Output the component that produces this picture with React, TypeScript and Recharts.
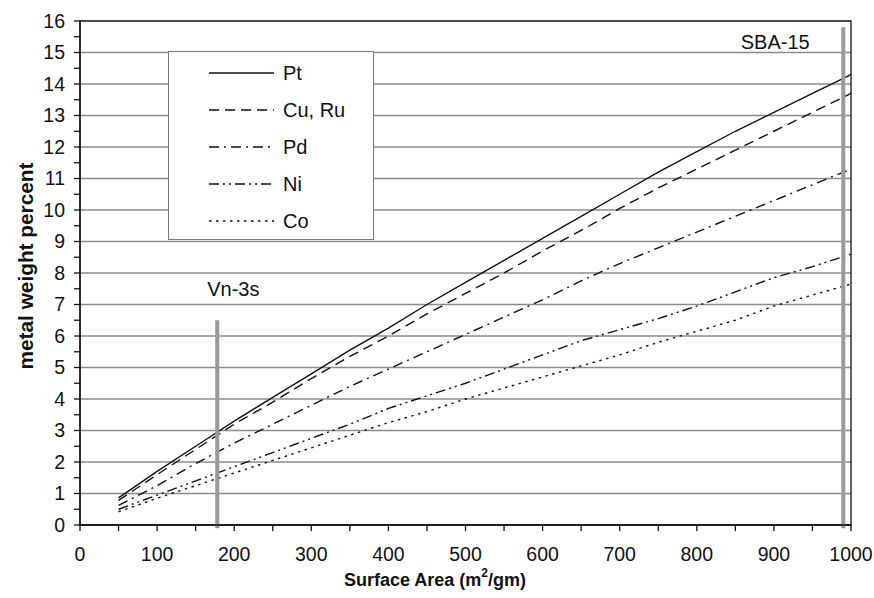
import React from 'react';
import { LineChart, Line, XAxis, YAxis, CartesianGrid, ReferenceLine, ReferenceArea, ReferenceDot, Label } from 'recharts';

const surfaceArea = [50, 100, 150, 200, 250, 300, 350, 400, 450, 500, 550, 600, 650, 700, 750, 800, 850, 900, 950, 1000];
const pt = [0.86, 1.7, 2.5, 3.3, 4.05, 4.8, 5.55, 6.25, 7.0, 7.7, 8.4, 9.1, 9.8, 10.5, 11.2, 11.85, 12.5, 13.1, 13.7, 14.3];
const cuRu = [0.78, 1.6, 2.4, 3.2, 3.9, 4.65, 5.35, 6.0, 6.7, 7.35, 8.0, 8.7, 9.35, 10.05, 10.7, 11.3, 11.9, 12.5, 13.1, 13.7];
const pd = [0.62, 1.25, 1.95, 2.6, 3.2, 3.8, 4.4, 4.95, 5.5, 6.05, 6.6, 7.15, 7.75, 8.3, 8.8, 9.3, 9.8, 10.3, 10.8, 11.3];
const ni = [0.5, 0.95, 1.4, 1.85, 2.3, 2.75, 3.2, 3.7, 4.1, 4.5, 4.95, 5.4, 5.85, 6.2, 6.55, 6.95, 7.4, 7.85, 8.2, 8.6];
const co = [0.42, 0.85, 1.25, 1.65, 2.05, 2.45, 2.85, 3.25, 3.6, 4.0, 4.35, 4.7, 5.05, 5.4, 5.8, 6.15, 6.5, 6.95, 7.3, 7.65];

const xTicks = [0, 50, 100, 150, 200, 250, 300, 350, 400, 450, 500, 550, 600, 650, 700, 750, 800, 850, 900, 950, 1000];
const yTicks = [0, 0.5, 1, 1.5, 2, 2.5, 3, 3.5, 4, 4.5, 5, 5.5, 6, 6.5, 7, 7.5, 8, 8.5, 9, 9.5, 10, 10.5, 11, 11.5, 12, 12.5, 13, 13.5, 14, 14.5, 15, 15.5, 16];
const gridValues = [1, 2, 3, 4, 5, 6, 7, 8, 9, 10, 11, 12, 13, 14, 15];

const data = surfaceArea.map((x, i) => ({ x, pt: pt[i], cuRu: cuRu[i], pd: pd[i], ni: ni[i], co: co[i] }));

const FONT = '"Liberation Sans", Arial, sans-serif';
const INK = '#111';

const series = [
  { key: 'pt', name: 'Pt', dash: undefined },
  { key: 'cuRu', name: 'Cu, Ru', dash: '10 6' },
  { key: 'pd', name: 'Pd', dash: '10 5 2 5' },
  { key: 'ni', name: 'Ni', dash: '10 4 2 4 2 4' },
  { key: 'co', name: 'Co', dash: '2.5 4.5' },
];

const tickStyle = { fontSize: 19.5, fill: INK, fontFamily: FONT };

export default function App() {
  return (
    <div style={{ position: 'absolute', left: 0, top: 0, width: 874, height: 598, background: '#fff', fontFamily: FONT }}>
      <LineChart width={874} height={598} data={data} margin={{ top: 21, right: 23, bottom: 0, left: 0 }}>
        <CartesianGrid horizontal vertical={false} horizontalValues={gridValues} stroke="#8c8c8c" strokeWidth={1.3} />
        <XAxis
          dataKey="x"
          type="number"
          domain={[0, 1000]}
          ticks={xTicks}
          interval={0}
          height={73}
          tickSize={6}
          tickMargin={16}
          stroke={INK}
          strokeWidth={1.3}
          tick={tickStyle}
          tickFormatter={(v: number) => (v % 100 === 0 ? String(v) : '')}
        >
          <Label
            content={() => (
              <text x={435} y={580} textAnchor="middle" dominantBaseline="central" fontFamily={FONT} fontSize={18} fontWeight="bold" fill={INK}>
                <tspan>Surface Area (m</tspan>
                <tspan dy={-7} fontSize={12}>2</tspan>
                <tspan dy={7}>/gm)</tspan>
              </text>
            )}
          />
        </XAxis>
        <YAxis
          type="number"
          domain={[0, 16]}
          ticks={yTicks}
          interval={0}
          width={80}
          tickSize={6}
          tickMargin={9}
          stroke={INK}
          strokeWidth={1.3}
          tick={tickStyle}
          tickFormatter={(v: number) => (Number.isInteger(v) ? String(v) : '')}
        >
          <Label
            content={() => (
              <text x={25} y={266} transform="rotate(-90 25 266)" textAnchor="middle" dominantBaseline="central" fontFamily={FONT} fontSize={20.8} fontWeight="bold" fill={INK}>
                metal weight percent
              </text>
            )}
          />
        </YAxis>
        <ReferenceArea x1={0} x2={1000} y1={0} y2={16} fill="none" stroke={INK} strokeWidth={1.3} ifOverflow="visible" />
        {series.map(s => (
          <Line
            key={s.key}
            dataKey={s.key}
            type="linear"
            stroke={INK}
            strokeWidth={1.4}
            strokeDasharray={s.dash}
            dot={false}
            activeDot={false}
            isAnimationActive={false}
          />
        ))}
        <ReferenceLine segment={[{ x: 178, y: -0.1 }, { x: 178, y: 6.5 }]} stroke="#9a9a9a" strokeWidth={4} ifOverflow="visible" />
        <ReferenceLine segment={[{ x: 990, y: -0.1 }, { x: 990, y: 15.8 }]} stroke="#9a9a9a" strokeWidth={4} ifOverflow="visible" />
        <ReferenceDot x={165} y={7.5} r={0} fill="none" stroke="none" ifOverflow="visible">
          <Label content={(p: any) => (
            <text x={p.viewBox ? p.viewBox.x : 0} y={p.viewBox ? p.viewBox.y : 0} dominantBaseline="central" fontFamily={FONT} fontSize={20} fill={INK}>Vn-3s</text>
          )} />
        </ReferenceDot>
        <ReferenceDot x={857} y={15.33} r={0} fill="none" stroke="none" ifOverflow="visible">
          <Label content={(p: any) => (
            <text x={p.viewBox ? p.viewBox.x : 0} y={p.viewBox ? p.viewBox.y : 0} dominantBaseline="central" fontFamily={FONT} fontSize={20} fill={INK}>SBA-15</text>
          )} />
        </ReferenceDot>
      </LineChart>

      <div
        style={{
          position: 'absolute',
          left: 168,
          top: 51,
          width: 206,
          height: 189,
          boxSizing: 'border-box',
          border: '1.3px solid #7a7a7a',
          background: '#fff',
        }}
      >
        {series.map((s, i) => (
          <div key={s.key} style={{ position: 'absolute', left: 40, top: 21 + i * 37 - 12, height: 24, display: 'flex', alignItems: 'center' }}>
            <svg width={66} height={24} style={{ display: 'block' }}>
              <line x1={0} y1={12} x2={65} y2={12} stroke={INK} strokeWidth={1.4} strokeDasharray={s.dash} />
            </svg>
            <span style={{ marginLeft: 8, fontSize: 20, color: INK, lineHeight: '24px' }}>{s.name}</span>
          </div>
        ))}
      </div>
    </div>
  );
}
